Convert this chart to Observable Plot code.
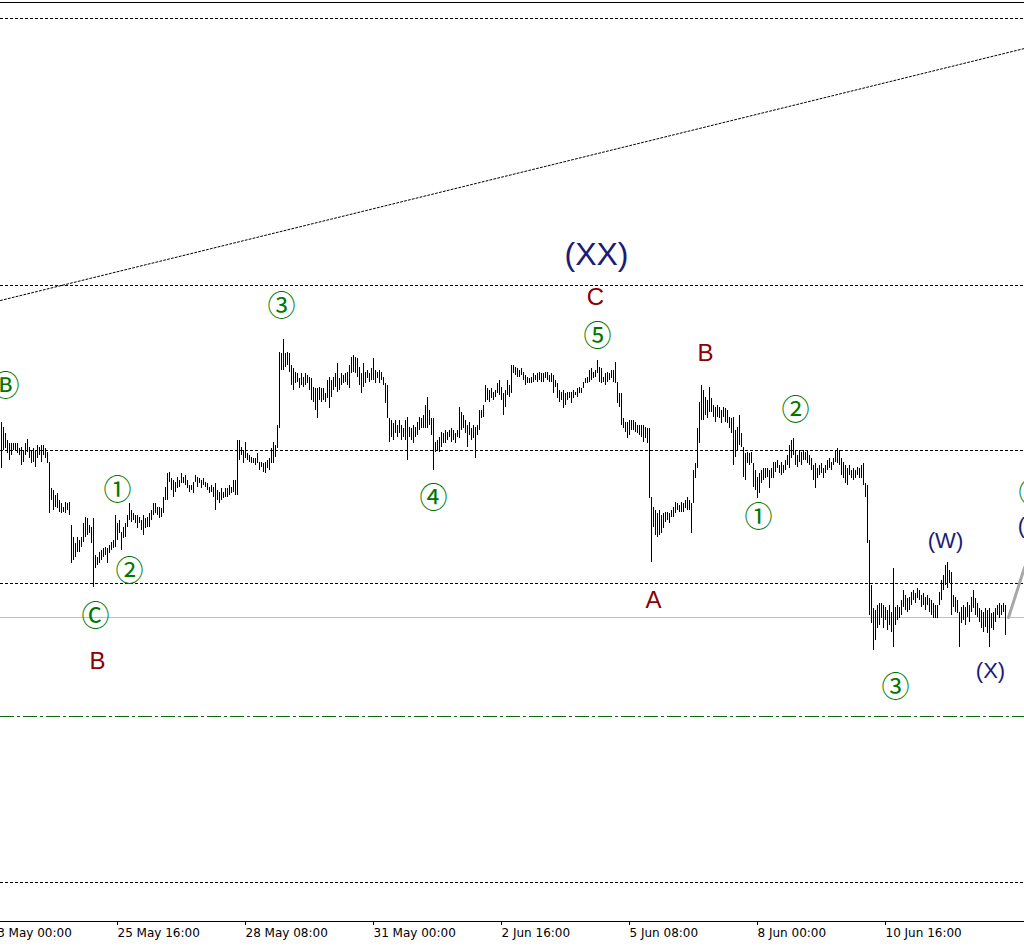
<!DOCTYPE html>
<html><head><meta charset="utf-8">
<script src="https://cdn.jsdelivr.net/npm/d3@7"></script>
<script src="https://cdn.jsdelivr.net/npm/@observablehq/plot@0.6"></script>
<style>body{margin:0;background:#fff;} #chart svg{display:block;}</style>
</head><body><div id="chart"></div>
<script>
// Hourly bars (price units), first bar time below
const firstBarTime = "2018-05-23T06:00:00Z";
const barHigh = [
578,573,567,560,557,557,557,557,557,552,553,550,557,561,553,550,552,550,555,553,555,555,552,548,
538,
512,510,505,507,500,497,493,498,497,498,
475,
463,457,463,460,463,477,483,482,475,473,
482,
445,443,448,450,452,453,452,455,458,460,485,477,480,468,473,477,485,497,
490,487,485,485,483,480,485,482,483,487,490,497,
497,493,493,492,503,513,527,
528,522,520,518,523,520,527,523,525,520,515,515,518,525,523,522,520,522,518,517,513,515,513,517,510,508,512,508,512,512,515,513,520,520,560,
560,553,550,558,547,545,543,542,542,547,538,538,537,538,540,542,552,558,555,575,648,647,661,647,648,
647,635,632,628,627,622,627,623,627,625,623,622,613,612,612,613,612,612,607,620,623,620,623,627,637,622,627,625,627,628,635,643,645,643,642,633,627,637,628,630,627,632,642,630,628,630,628,623,617,
615,582,580,577,580,575,580,575,572,580,583,573,572,575,573,578,583,582,585,595,603,590,582,582,558,560,563,568,567,570,568,570,572,570,567,570,593,588,585,580,575,578,572,575,573,575,590,590,595,615,612,610,612,608,610,617,620,613,607,610,620,615,635,
635,633,632,630,632,628,625,623,622,623,
627,625,627,628,627,627,628,628,625,627,
625,620,617,610,608,610,607,608,608,608,
610,608,612,613,612,618,622,623,630,632,
628,630,640,633,632,623,627,628,627,630,
630,638,618,607,607,582,578,578,580,580,
580,578,575,575,575,575,573,572,572,503,
493,490,487,490,485,487,488,488,487,490,
493,498,497,495,498,497,500,503,500,497,
530,537,572,598,615,610,603,600,613,602,
595,593,595,593,590,593,592,590,583,582,
583,570,573,585,567,553,547,548,547,548,
537,530,523,527,530,532,532,532,
530,532,538,538,540,535,538,535,540,545,
555,560,562,550,545,550,548,550,548,550,
545,542,535,537,532,535,537,532,535,540,
542,538,542,550,552,550,542,538,535,532,
535,530,532,530,533,532,535,537,517,515,
460,415,392,390,395,397,397,395,393,390,
395,388,432,393,395,393,400,410,405,402,
403,408,410,407,412,410,405,407,403,405,
402,400,397,395,395,408,420,425,435,438,
430,428,405,403,400,388,393,395,393,398,
395,403,410,402,397,392,390,388,392,390,
392,387,388,392,395,397,395,397,395
];
const barLow = [
532,550,552,547,540,545,550,550,547,545,535,538,545,548,542,537,538,533,542,545,538,545,542,537,
487,
500,490,493,492,488,487,488,487,490,485,
437,
440,443,448,448,453,458,463,465,467,457,
413,
432,435,437,440,443,445,437,447,450,452,453,460,467,450,462,463,473,480,
478,480,477,472,477,470,465,472,473,473,480,485,
487,485,482,483,487,500,500,
518,510,503,508,512,513,517,517,515,512,508,510,507,518,513,517,512,515,513,510,507,508,503,490,500,497,500,502,503,503,505,507,508,505,505,
540,545,537,542,540,538,537,537,535,537,530,533,528,527,532,530,537,537,543,552,572,630,630,633,635,
628,615,610,617,618,612,615,613,615,617,610,600,598,590,582,600,598,600,598,602,592,603,610,613,608,610,615,617,618,615,612,627,628,627,623,615,607,613,617,622,618,620,620,617,622,617,620,615,597,
582,558,563,560,567,563,567,560,563,560,540,563,560,557,563,565,570,572,572,572,572,575,565,530,548,550,548,553,557,557,560,563,558,560,557,563,562,570,572,567,553,565,560,562,542,565,570,582,583,598,600,598,602,600,603,607,605,600,585,593,605,603,607,
627,625,623,623,625,620,615,617,617,617,
618,620,618,620,618,618,622,620,618,618,
607,613,602,598,600,592,595,600,602,597,
602,605,603,607,607,612,617,617,618,620,
622,623,627,618,617,618,615,618,620,622,
618,617,597,593,575,572,568,562,565,570,
570,568,567,565,563,558,562,557,502,438,
473,465,463,465,467,472,478,480,477,483,
483,487,490,488,488,488,492,490,490,467,
497,522,532,557,580,580,585,582,588,588,
583,578,583,582,577,583,578,577,572,567,
535,543,550,555,553,523,520,537,535,537,
513,510,502,507,517,520,522,523,
512,522,522,528,532,527,525,527,530,535,
532,542,545,535,533,538,535,540,540,537,
535,530,520,512,522,525,527,522,527,530,
532,530,535,538,537,535,525,522,517,515,
525,522,520,522,525,522,522,515,503,457,
385,377,350,360,372,375,382,372,380,370,
375,368,353,375,380,382,385,393,390,388,
390,395,400,397,402,400,393,395,390,395,
388,385,382,382,382,395,400,410,415,412,
417,385,393,388,387,353,377,380,375,383,
378,388,392,385,383,378,372,368,373,367,
353,372,370,378,385,382,385,388,365
];

// visible window
const viewTimes = ["2018-05-23T05:30:00Z", "2018-06-13T13:30:00Z"];
const viewPrices = [79, 998];

// time axis labels
const tickTimes = ["2018-05-23T00:00:00Z","2018-05-25T16:00:00Z","2018-05-28T08:00:00Z","2018-05-31T00:00:00Z",
                   "2018-06-02T16:00:00Z","2018-06-05T08:00:00Z","2018-06-08T00:00:00Z","2018-06-10T16:00:00Z"];

// horizontal levels
const dottedLevels = [982, 715, 550, 417, 118];
const grayLevels = [383];
const greenLevels = [284];

// trend line and wave projection
const trendLine = [{time:"2018-05-23T05:30:00Z", price:700},{time:"2018-06-13T13:30:00Z", price:952}];
const waveProjection = [{time:"2018-06-13T05:30:00Z", price:383},{time:"2018-06-13T13:30:00Z", price:433}];

// wave labels
const waveLabels = [
 {text:"(XX)", time:"2018-06-04T15:30:00Z", price:746, degree:"primary"},
 {text:"C",    time:"2018-06-04T15:00:00Z", price:703, degree:"minor"},
 {text:"⑤",   time:"2018-06-04T16:00:00Z", price:665, degree:"minute"},
 {text:"③",   time:"2018-05-29T02:00:00Z", price:695, degree:"minute"},
 {text:"Ⓑ",   time:"2018-05-23T08:00:00Z", price:615, degree:"minute"},
 {text:"①",   time:"2018-05-25T16:00:00Z", price:511, degree:"minute"},
 {text:"②",   time:"2018-05-25T22:00:00Z", price:430, degree:"minute"},
 {text:"Ⓒ",   time:"2018-05-25T05:00:00Z", price:385, degree:"minute"},
 {text:"B",    time:"2018-05-25T06:00:00Z", price:339, degree:"minor"},
 {text:"④",   time:"2018-06-01T06:00:00Z", price:503, degree:"minute"},
 {text:"A",    time:"2018-06-05T20:00:00Z", price:400, degree:"minor"},
 {text:"B",    time:"2018-06-06T22:00:00Z", price:647, degree:"minor"},
 {text:"②",   time:"2018-06-08T19:00:00Z", price:591, degree:"minute"},
 {text:"①",   time:"2018-06-08T00:30:00Z", price:484, degree:"minute"},
 {text:"(W)",  time:"2018-06-11T22:00:00Z", price:460, degree:"intermediate"},
 {text:"③",   time:"2018-06-10T21:00:00Z", price:314, degree:"minute"},
 {text:"(X)",  time:"2018-06-12T20:30:00Z", price:330, degree:"intermediate"},
 {text:"④",   time:"2018-06-13T17:30:00Z", price:508, degree:"minute"},
 {text:"(Y)",  time:"2018-06-13T17:30:00Z", price:475, degree:"intermediate"}
];

const t0 = new Date(firstBarTime);
const bars = barHigh.map((h, i) => ({time: d3.utcHour.offset(t0, i), high: h, low: barLow[i]}));
const T = d => new Date(d.time);
const degreeStyle = {
  primary:      {fill: "#1b1b78", fontSize: 32, fontFamily: "Liberation Sans"},
  intermediate: {fill: "#1b1b78", fontSize: 22, fontFamily: "Liberation Sans"},
  minor:        {fill: "#8b0000", fontSize: 24, fontFamily: "Liberation Sans"},
  minute:       {fill: "#007800", fontSize: 28, fontFamily: "Noto Sans CJK JP", dy: 2}
};
const labelMarks = Object.entries(degreeStyle).map(([deg, st]) =>
  Plot.text(waveLabels.filter(d => d.degree === deg), {x: T, y: "price", text: "text", ...st}));

const fmt = d3.utcFormat("%-d %b %H:%M");
const chart = Plot.plot({
  width: 1024, height: 948,
  marginLeft: 0, marginRight: 0, marginTop: 2, marginBottom: 27,
  style: {background: "white", overflow: "hidden", fontFamily: "DejaVu Sans"},
  x: {type: "utc", domain: viewTimes.map(d => new Date(d)), axis: null},
  y: {type: "linear", domain: viewPrices, axis: null},
  marks: [
    Plot.ruleY(dottedLevels, {stroke: "black", strokeWidth: 1, strokeDasharray: "3,2"}),
    Plot.ruleY(grayLevels, {stroke: "#c0c0c0", strokeWidth: 1}),
    Plot.ruleY(greenLevels, {stroke: "#0b6b0b", strokeWidth: 1, strokeDasharray: "14,3,3,3"}),
    Plot.line(trendLine, {x: T, y: "price", stroke: "black", strokeWidth: 1, strokeDasharray: "2,2"}),
    Plot.ruleX(bars, {x: "time", y1: "low", y2: "high", stroke: "black", strokeWidth: 1}),
    Plot.line(waveProjection, {x: T, y: "price", stroke: "#a8a8a8", strokeWidth: 3}),
    ...labelMarks,
    Plot.ruleY([viewPrices[1]], {stroke: "black", strokeWidth: 1}),
    Plot.ruleY([viewPrices[0]], {stroke: "black", strokeWidth: 1}),
    Plot.axisX(tickTimes.map(d => new Date(d)), {anchor: "bottom", tickSize: 4, tickPadding: 3, tickFormat: fmt,
      textAnchor: "start", fontSize: 12, fontFamily: "DejaVu Sans", fill: "black", stroke: "black", label: null})
  ]
});
document.getElementById("chart").appendChild(chart);
</script>
</body></html>
